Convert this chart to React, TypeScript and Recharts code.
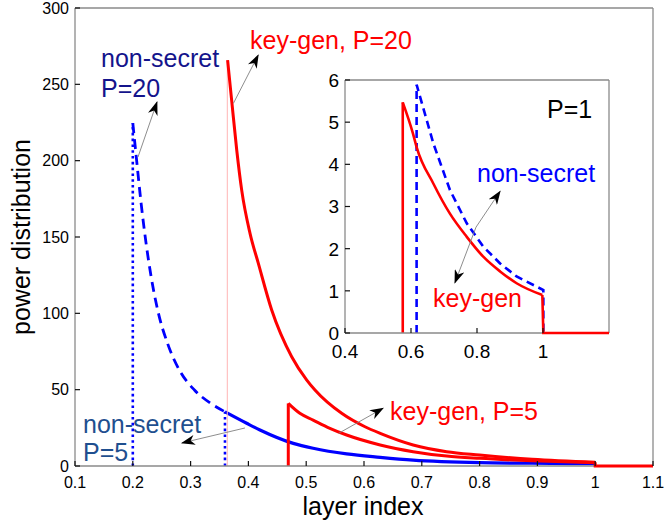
import React from 'react';
import { LineChart, Line, XAxis, YAxis, ReferenceLine, CartesianGrid } from 'recharts';

const FONT = '"Liberation Sans", Arial, Helvetica, sans-serif';

// axes
const mainXTicks = [0.1, 0.2, 0.3, 0.4, 0.5, 0.6, 0.7, 0.8, 0.9, 1, 1.1];
const mainYTicks = [0, 50, 100, 150, 200, 250, 300];
const insetXTicks = [0.4, 0.6, 0.8, 1];
const insetYTicks = [0, 1, 2, 3, 4, 5, 6];

// non-secret, P=20 (dotted stem + dashed curve)
const nsP20StemX = [0.2, 0.2];
const nsP20StemY = [0, 224.6];
const nsP20X = [0.2, 0.206, 0.2144, 0.223, 0.2317, 0.2431, 0.2604, 0.2806, 0.3066, 0.335, 0.3595];
const nsP20Y = [224.6, 202.5, 172, 145.8, 124, 102, 80, 62.8, 49.8, 41, 35.5];

// non-secret, P=5 (dotted stem + solid curve)
const nsP5StemX = [0.3595, 0.3595];
const nsP5StemY = [0, 35.5];
const nsP5X = [0.3595, 0.397, 0.42, 0.4777, 0.512, 0.57, 0.628, 0.685, 0.8, 0.891, 1.0];
const nsP5Y = [35.5, 28, 23.6, 14.8, 11.6, 7.9, 5.7, 3.9, 2.2, 1.8, 1.5];

// key-gen, P=20
const kgP20StemX = [0.3635, 0.3635];
const kgP20StemY = [0, 265.9];
const kgP20X = [0.364, 0.371, 0.3798, 0.3884, 0.4028, 0.4172, 0.4403, 0.4749, 0.501, 0.5152, 0.5614, 0.6017, 0.628, 0.685, 0.743, 0.8, 0.891, 1.0];
const kgP20Y = [265.9, 239.7, 207, 180.7, 152.4, 132.7, 102.2, 71.6, 56.3, 49.8, 34.5, 25.7, 21.4, 13.8, 9.4, 7.2, 4.4, 2.5];
const kgTailX = [1.0, 1.0, 1.1];
const kgTailY = [2.5, 0, 0];

// key-gen, P=5
const kgP5StemX = [0.469, 0.469];
const kgP5StemY = [0, 41];
const kgP5X = [0.469, 0.489, 0.512, 0.541, 0.57, 0.628, 0.685, 0.743, 0.8, 0.891, 1.0];
const kgP5Y = [41, 34.5, 30.1, 24.7, 20.3, 13.8, 9.4, 6.5, 5, 3.4, 2.2];

// inset, P=1
const kg1StemX = [0.575, 0.575];
const kg1StemY = [0, 5.47];
const kg1X = [0.575, 0.606, 0.617, 0.668, 0.718, 0.769, 0.819, 0.87, 0.92, 0.998];
const kg1Y = [5.47, 4.73, 4.41, 3.54, 2.83, 2.28, 1.81, 1.46, 1.18, 0.9];
const kg1TailX = [0.998, 1.001, 1.2];
const kg1TailY = [0.9, 0, 0];
const ns1X = [0.617, 0.617, 0.668, 0.718, 0.769, 0.819, 0.87, 0.92, 1.001, 1.001];
const ns1Y = [0, 5.89, 4.49, 3.39, 2.6, 2.05, 1.65, 1.34, 1.02, 0];

// annotation arrows [x1, y1, x2(tip), y2(tip)] in data units
const mainArrows = [
  [0.209, 202.4, 0.2419, 238.4],
  [0.374, 237.5, 0.417, 269.2],
  [0.394, 24.9, 0.285, 15.1],
  [0.556, 21.4, 0.633, 37.8],
];
const insetArrows = [
  [0.797, 2.51, 0.87, 3.36],
  [0.797, 2.51, 0.733, 1.19],
];

const zip = (xs: number[], ys: number[]) => xs.map((x, i) => ({ x, y: ys[i] }));
const fmt = (v: number) => String(Number(v.toFixed(1)));

const makeTick = (side: string, fontSize: number, labels: boolean, gap: number) => (props: any) => {
  const { x, y, payload } = props;
  const len = 5;
  let tick;
  let label = null;
  if (side === 'bottom') {
    tick = <path d={`M${x},${y}V${y - len}`} stroke="#111" strokeWidth={1.2} />;
    if (labels) label = <text x={x} y={y + gap} textAnchor="middle" fontSize={fontSize} fill="#000" fontFamily={FONT}>{fmt(payload.value)}</text>;
  } else if (side === 'left') {
    tick = <path d={`M${x},${y}H${x + len}`} stroke="#111" strokeWidth={1.2} />;
    if (labels) label = <text x={x - gap} y={y} dy="0.36em" textAnchor="end" fontSize={fontSize} fill="#000" fontFamily={FONT}>{fmt(payload.value)}</text>;
  } else if (side === 'top') {
    tick = <path d={`M${x},${y}V${y + len}`} stroke="#111" strokeWidth={1.2} />;
  } else {
    tick = <path d={`M${x},${y}H${x - len}`} stroke="#111" strokeWidth={1.2} />;
  }
  return <g>{tick}{label}</g>;
};

const ArrowShape = (p: any) => (
  <line x1={p.x1} y1={p.y1} x2={p.x2} y2={p.y2} stroke="#808080" strokeWidth={0.9} markerEnd="url(#ah)" />
);

const GRAY = '#8a8a8a';
const frame = { stroke: GRAY, strokeWidth: 1.3 };

export default function App() {
  return (
    <div style={{ position: 'relative', width: 664, height: 532, background: '#fff', fontFamily: FONT }}>
      <style>{'body{margin:0}'}</style>

      <LineChart width={664} height={532} margin={{ top: 7, right: 10, bottom: 0, left: 0 }}>
        <XAxis type="number" dataKey="x" domain={[0.1, 1.1]} ticks={mainXTicks} interval={0}
          height={66} tickSize={0} tickMargin={0} tickLine={false} axisLine={frame} stroke={GRAY} tick={makeTick('bottom', 16, true, 22)} />
        <XAxis xAxisId="top" orientation="top" type="number" dataKey="x" domain={[0.1, 1.1]} ticks={mainXTicks} interval={0}
          height={1} tickSize={0} tickMargin={0} tickLine={false} axisLine={frame} stroke={GRAY} tick={makeTick('top', 16, false, 0)} />
        <YAxis type="number" domain={[0, 300]} ticks={mainYTicks} interval={0}
          width={75} tickSize={0} tickMargin={0} tickLine={false} axisLine={frame} stroke={GRAY} tick={makeTick('left', 16, true, 6)} />
        <YAxis yAxisId="right" orientation="right" type="number" domain={[0, 300]} ticks={mainYTicks} interval={0}
          width={1} tickSize={0} tickMargin={0} tickLine={false} axisLine={frame} stroke={GRAY} tick={makeTick('right', 16, false, 0)} />

        <Line data={zip(nsP20StemX, nsP20StemY)} dataKey="y" type="linear" stroke="#0000ff" strokeWidth={2.6} strokeDasharray="2.6 3.2" dot={false} isAnimationActive={false} />
        <Line data={zip(nsP20X, nsP20Y)} dataKey="y" type="monotone" stroke="#0000ff" strokeWidth={2.8} strokeDasharray="10 6" dot={false} isAnimationActive={false} />
        <Line data={zip(nsP5StemX, nsP5StemY)} dataKey="y" type="linear" stroke="#0000ff" strokeWidth={2.6} strokeDasharray="2.6 3.2" dot={false} isAnimationActive={false} />
        <Line data={zip(nsP5X, nsP5Y)} dataKey="y" type="monotone" stroke="#0000ff" strokeWidth={3.2} dot={false} isAnimationActive={false} />
        <Line data={zip(kgP20StemX, kgP20StemY)} dataKey="y" type="linear" stroke="#ffb4b4" strokeWidth={1} dot={false} isAnimationActive={false} />
        <Line data={zip(kgP5StemX, kgP5StemY)} dataKey="y" type="linear" stroke="#ff0000" strokeWidth={3} dot={false} isAnimationActive={false} />
        <Line data={zip(kgP5X, kgP5Y)} dataKey="y" type="monotone" stroke="#ff0000" strokeWidth={3} dot={false} isAnimationActive={false} />
        <Line data={zip(kgP20X, kgP20Y)} dataKey="y" type="monotone" stroke="#ff0000" strokeWidth={3} dot={false} isAnimationActive={false} />
        <Line data={zip(kgTailX, kgTailY)} dataKey="y" type="linear" stroke="#ff0000" strokeWidth={3} dot={false} isAnimationActive={false} zIndex={600} />

        {mainArrows.map((a, i) => (
          <ReferenceLine key={i} segment={[{ x: a[0], y: a[1] }, { x: a[2], y: a[3] }]} shape={ArrowShape} />
        ))}
      </LineChart>

      <div style={{ position: 'absolute', left: 313, top: 69 }}>
        <LineChart width={301} height={294} margin={{ top: 10, right: 4, bottom: 0, left: 0 }}>
          <CartesianGrid fill="#fff" horizontal={false} vertical={false} />
          <XAxis type="number" dataKey="x" domain={[0.4, 1.2]} ticks={insetXTicks} interval={0}
            height={30} tickSize={0} tickMargin={0} tickLine={false} axisLine={frame} stroke={GRAY} tick={makeTick('bottom', 19, true, 25)} />
          <XAxis xAxisId="top" orientation="top" type="number" dataKey="x" domain={[0.4, 1.2]} ticks={insetXTicks} interval={0}
            height={1} tickSize={0} tickMargin={0} tickLine={false} axisLine={frame} stroke={GRAY} tick={makeTick('top', 19, false, 0)} />
          <YAxis type="number" domain={[0, 6]} ticks={insetYTicks} interval={0}
            width={32} tickSize={0} tickMargin={0} tickLine={false} axisLine={frame} stroke={GRAY} tick={makeTick('left', 19, true, 6)} />
          <YAxis yAxisId="right" orientation="right" type="number" domain={[0, 6]} ticks={insetYTicks} interval={0}
            width={1} tickSize={0} tickMargin={0} tickLine={false} axisLine={frame} stroke={GRAY} tick={makeTick('right', 19, false, 0)} />

          <Line data={zip(ns1X, ns1Y)} dataKey="y" type="linear" stroke="#0000ff" strokeWidth={2.6} strokeDasharray="8 5" dot={false} isAnimationActive={false} />
          <Line data={zip(kg1StemX, kg1StemY)} dataKey="y" type="linear" stroke="#ff0000" strokeWidth={2.6} dot={false} isAnimationActive={false} />
          <Line data={zip(kg1X, kg1Y)} dataKey="y" type="monotone" stroke="#ff0000" strokeWidth={2.6} dot={false} isAnimationActive={false} />
          <Line data={zip(kg1TailX, kg1TailY)} dataKey="y" type="linear" stroke="#ff0000" strokeWidth={2.6} dot={false} isAnimationActive={false} zIndex={600} />

          {insetArrows.map((a, i) => (
            <ReferenceLine key={i} segment={[{ x: a[0], y: a[1] }, { x: a[2], y: a[3] }]} shape={ArrowShape} />
          ))}
        </LineChart>
      </div>

      <svg width={664} height={532} style={{ position: 'absolute', left: 0, top: 0, pointerEvents: 'none' }} fontFamily={FONT}>
        <defs>
          <marker id="ah" viewBox="0 0 14 10" refX="13" refY="5" markerWidth="14" markerHeight="10" markerUnits="userSpaceOnUse" orient="auto">
            <path d="M0,0 L14,5 L0,10 L4,5 z" fill="#000" />
          </marker>
        </defs>
        <text x={30} y={237} transform="rotate(-90 30 237)" textAnchor="middle" fontSize={25} fill="#000">power distribution</text>
        <text x={363} y={515} textAnchor="middle" fontSize={25} fill="#000">layer index</text>

        <text x={101} y={67} fontSize={25} fill="#14148c">non-secret</text>
        <text x={101} y={97} fontSize={25} fill="#14148c">P=20</text>
        <text x={250} y={49} fontSize={25} fill="#ff0000">key-gen, P=20</text>
        <text x={83} y={433} fontSize={25} fill="#1f4f8f">non-secret</text>
        <text x={83} y={461} fontSize={25} fill="#1f4f8f">P=5</text>
        <text x={390} y={420} fontSize={25} fill="#ff0000">key-gen, P=5</text>

        <text x={547} y={118} fontSize={25} fill="#000">P=1</text>
        <text x={477} y={182} fontSize={25} fill="#0000ff">non-secret</text>
        <text x={433} y={307} fontSize={25} fill="#ff0000">key-gen</text>
      </svg>
    </div>
  );
}
